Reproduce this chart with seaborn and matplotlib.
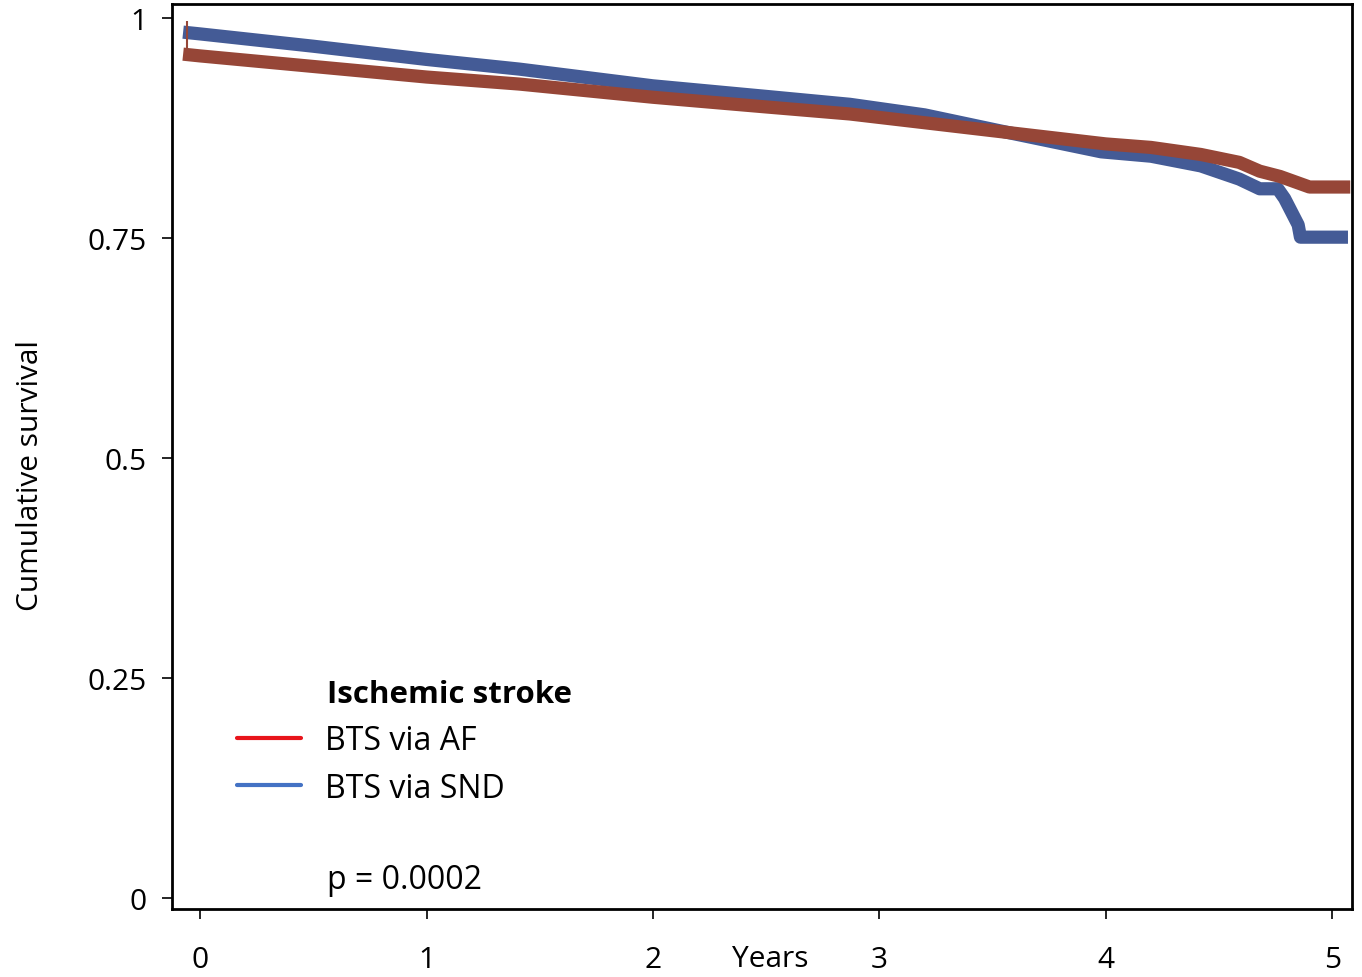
import pandas as pd
import matplotlib.pyplot as plt
import seaborn as sns
from matplotlib.lines import Line2D

# --- datos ---
af_years = [-0.075, 0.0, 0.5, 1.0, 1.41, 2.0, 2.5, 2.87, 3.5, 4.0, 4.2, 4.42, 4.59, 4.68, 4.77, 4.9, 5.08]
af_surv = [0.959, 0.957, 0.945, 0.933, 0.925, 0.910, 0.899, 0.891, 0.872, 0.857, 0.853, 0.845, 0.836, 0.826, 0.820, 0.808, 0.808]

snd_years = [-0.075, 0.0, 0.5, 1.0, 1.41, 2.0, 2.5, 2.87, 3.2, 3.53, 3.98, 4.2, 4.42, 4.59, 4.68, 4.76,
             4.79, 4.81, 4.83, 4.85, 4.86, 5.07]
snd_surv = [0.984, 0.982, 0.968, 0.953, 0.942, 0.923, 0.911, 0.902, 0.890, 0.872, 0.848, 0.843, 0.832, 0.817,
            0.806, 0.806, 0.795, 0.785, 0.775, 0.765, 0.751, 0.751]

# caida inicial del grupo AF (linea fina)
af_start_year = -0.06
af_start_top = 0.997

y_ticks = [0, 0.25, 0.5, 0.75, 1]
y_ticklabels = ['0', '0.25', '0.5', '0.75', '1']
x_ticks = [0, 1, 2, 3, 4, 5]

df_af = pd.DataFrame({'Years': af_years, 'Survival': af_surv})
df_snd = pd.DataFrame({'Years': snd_years, 'Survival': snd_surv})

# --- grafico ---
sns.set_style("white")
plt.rcParams['font.family'] = ['Open Sans', 'DejaVu Sans']
plt.rcParams['text.color'] = 'black'
plt.rcParams['axes.labelcolor'] = 'black'
plt.rcParams['xtick.color'] = 'black'
plt.rcParams['ytick.color'] = 'black'

fig = plt.figure(figsize=(13.62, 9.78), dpi=100)
ax = fig.add_axes([0.1263, 0.0695, 0.8664, 0.9254])

col_af = '#964637'
col_snd = '#445B96'

sns.lineplot(data=df_snd, x='Years', y='Survival', ax=ax, color=col_snd, linewidth=9.5,
             solid_capstyle='butt', estimator=None, sort=False)
sns.lineplot(data=df_af, x='Years', y='Survival', ax=ax, color=col_af, linewidth=9.5,
             solid_capstyle='butt', estimator=None, sort=False)
ax.vlines(af_start_year, af_surv[0], af_start_top, color=col_af, linewidth=1.5)

ax.set_xlim(-0.124, 5.088)
ax.set_ylim(-0.0125, 1.016)
ax.set_yticks(y_ticks)
ax.set_yticklabels(y_ticklabels)
ax.set_xticks(x_ticks)
ax.tick_params(axis='both', labelsize=21.5, direction='out', length=7, width=1.2,
               color='black', labelcolor='black')
ax.tick_params(axis='x', pad=19)
ax.tick_params(axis='y', pad=11)
ax.tick_params(left=True, bottom=True)

for sp in ax.spines.values():
    sp.set_visible(True)
    sp.set_color('black')
    sp.set_linewidth(2)

ax.set_ylabel('Cumulative survival', fontsize=21.5, color='black')
ax.yaxis.set_label_coords(-0.108, 0.48)
ax.set_xlabel('Years', fontsize=21.5, color='black')
ax.xaxis.set_label_coords(0.507, -0.039)

# leyenda
handles = [Line2D([0], [0], color='#E8141B', linewidth=3),
           Line2D([0], [0], color='#4472C4', linewidth=3)]
leg = ax.legend(handles, ['BTS via AF', 'BTS via SND'], loc='upper left', bbox_to_anchor=(0.031, 0.236),
                frameon=False, fontsize=23, handlelength=2.0, handletextpad=0.75, labelspacing=0.45)
for t in leg.get_texts():
    t.set_color('black')
ax.text(0.131, 0.238, 'Ischemic stroke', transform=ax.transAxes, fontsize=22.5, fontweight='bold',
        va='center', ha='left', color='black')
ax.text(0.131, 0.033, 'p = 0.0002', transform=ax.transAxes, fontsize=23, va='center', ha='left',
        color='black')

plt.savefig('out.png', dpi=100)
plt.close()
